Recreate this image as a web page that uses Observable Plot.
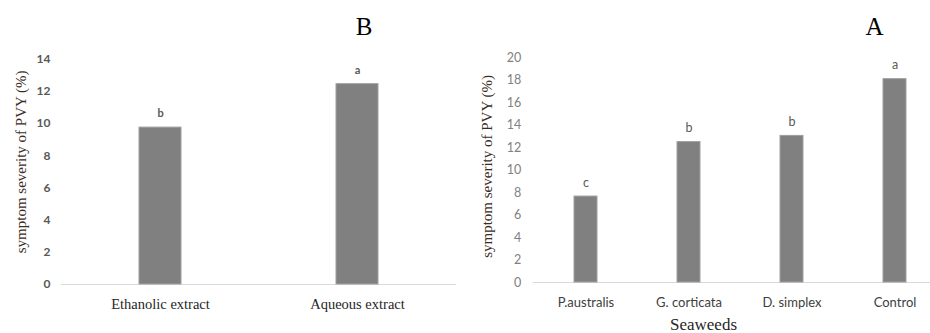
<!DOCTYPE html>
<html>
<head>
<meta charset="utf-8">
<script src="https://cdn.jsdelivr.net/npm/d3@7"></script>
<script src="https://cdn.jsdelivr.net/npm/@observablehq/plot@0.6"></script>
<style>
  html, body { margin: 0; padding: 0; background: #fff; overflow: hidden; }
  #wrap { position: relative; width: 930px; height: 333px; }
  #left, #right { position: absolute; top: 0; }
  #left { left: 0; }
  #right { left: 465px; }
</style>
</head>
<body>
<div id="wrap"><div id="left"></div><div id="right"></div></div>
<script>
// Panel B: extracts
const extractCategories = ["Ethanolic extract", "Aqueous extract"];
const extractValues = [9.75, 12.45];
const extractLetters = ["b", "a"];
const extractTicks = [0, 2, 4, 6, 8, 10, 12, 14];

// Panel A: seaweeds
const seaweedCategories = ["P.australis", "G. corticata", "D. simplex", "Control"];
const seaweedValues = [7.65, 12.5, 13.05, 18.1];
const seaweedLetters = ["c", "b", "b", "a"];
const seaweedTicks = [0, 2, 4, 6, 8, 10, 12, 14, 16, 18, 20];

const yLabel = "symptom severity of PVY (%)";
const serif = "'Liberation Serif', 'DejaVu Serif', serif";
const sans = "Lato, 'Liberation Sans', sans-serif";

const extractData = extractCategories.map((c, i) => ({cat: c, v: extractValues[i], letter: extractLetters[i]}));
const seaweedData = seaweedCategories.map((c, i) => ({cat: c, v: seaweedValues[i], letter: seaweedLetters[i]}));

const left = Plot.plot({
  width: 465, height: 333,
  marginLeft: 61, marginRight: 9, marginTop: 58.7, marginBottom: 49,
  style: {background: "#fff"},
  x: {domain: extractCategories, paddingInner: 0.787, paddingOuter: 0.3935},
  y: {domain: [0, 14]},
  marks: [
    Plot.ruleY([0], {stroke: "#d9d9d9", strokeWidth: 1}),
    Plot.barY(extractData, {x: "cat", y: "v", fill: "#808080", stroke: "#a0a0a0", strokeWidth: 1}),
    Plot.text(extractData, {x: "cat", y: "v", text: "letter", dy: -14, fontSize: 11, fontWeight: "bold", fontFamily: sans, fill: "#595959"}),
    Plot.axisY({ticks: extractTicks, tickSize: 0, tickPadding: 11, label: null, fontSize: 12, fontWeight: "bold", fontFamily: sans, color: "#595959"}),
    Plot.axisX({tickSize: 0, tickPadding: 14, label: null, fontSize: 14.5, fontFamily: serif, color: "#262626"}),
    Plot.text([yLabel], {frameAnchor: "left", textAnchor: "middle", rotate: -90, dx: -40, dy: -10, fontSize: 15, fontFamily: serif, fill: "#3a2c1e"}),
    Plot.text(["B"], {frameAnchor: "top-right", dx: -84, dy: -24.4, lineAnchor: "bottom", fontSize: 25, fontFamily: serif, fill: "#000"})
  ]
});
document.getElementById("left").appendChild(left);

const right = Plot.plot({
  width: 465, height: 333,
  marginLeft: 67.7, marginRight: 0, marginTop: 57.3, marginBottom: 51,
  style: {background: "#fff"},
  x: {domain: seaweedCategories, range: [67.7, 481.5], paddingInner: 0.78, paddingOuter: 0.39},
  y: {domain: [0, 20]},
  marks: [
    Plot.ruleY([0], {stroke: "#d9d9d9", strokeWidth: 1}),
    Plot.barY(seaweedData, {x: "cat", y: "v", fill: "#808080", stroke: "#a0a0a0", strokeWidth: 1}),
    Plot.text(seaweedData, {x: "cat", y: "v", text: "letter", dy: -14, fontSize: 12.5, fontFamily: sans, fill: "#595959"}),
    Plot.axisY({ticks: seaweedTicks, tickSize: 0, tickPadding: 12, label: null, fontSize: 12.5, fontFamily: sans, color: "#808080"}),
    Plot.axisX({tickSize: 0, tickPadding: 15.5, label: null, fontSize: 13, fontFamily: sans, color: "#404040"}),
    Plot.text([yLabel], {frameAnchor: "left", textAnchor: "middle", rotate: -90, dx: -46, dy: -3.7, fontSize: 15, fontFamily: serif, fill: "#3a2c1e"}),
    Plot.text(["Seaweeds"], {frameAnchor: "bottom", dx: -28.35, dy: 42, lineAnchor: "middle", fontSize: 17, fontFamily: serif, fill: "#262626"}),
    Plot.text(["A"], {frameAnchor: "top-right", dx: -47, dy: -23, lineAnchor: "bottom", fontSize: 25, fontFamily: serif, fill: "#000"})
  ]
});
document.getElementById("right").appendChild(right);
</script>
</body>
</html>
